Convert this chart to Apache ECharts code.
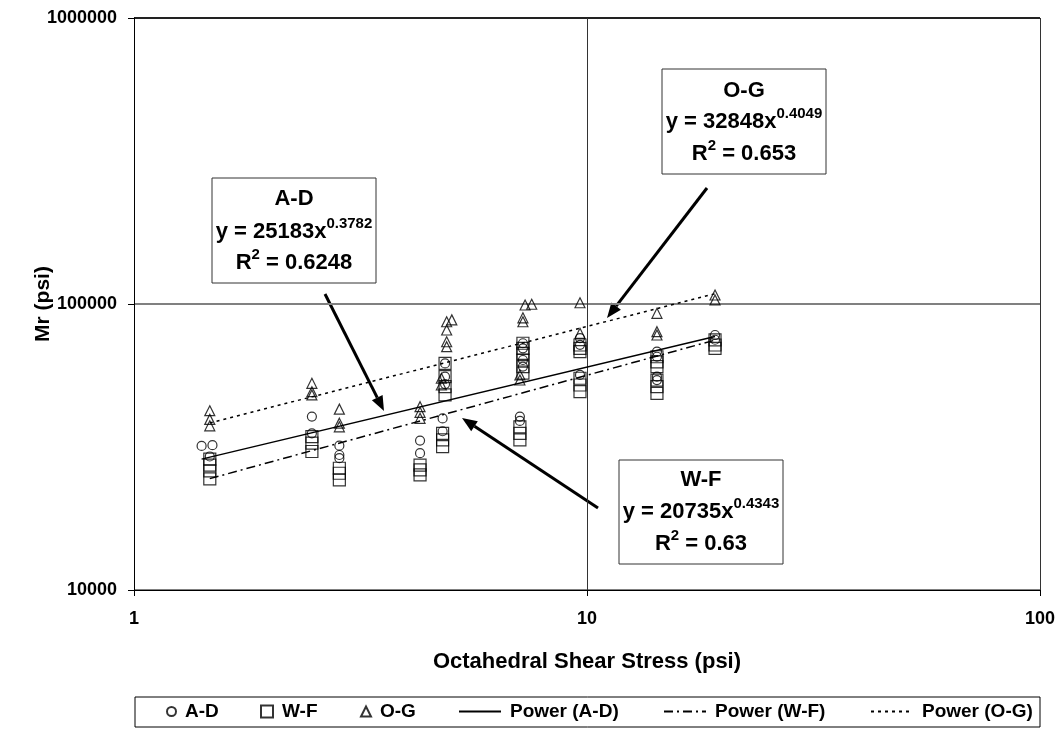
<!DOCTYPE html>
<html>
<head>
<meta charset="utf-8">
<script src="https://cdn.jsdelivr.net/npm/echarts@6/dist/echarts.min.js"></script>
<style>
  html, body { margin: 0; padding: 0; background: #fff; }
  #chart { width: 1062px; height: 729px; }
</style>
</head>
<body>
<div id="chart"></div>
<script>
// Resilient modulus vs octahedral shear stress, three soil groups
const adX = [1.41, 1.49, 1.47, 2.47, 2.47, 2.84, 2.84, 2.84, 4.28, 4.28,
             4.86, 4.86, 4.86, 4.80, 4.80, 7.22, 7.22, 7.22, 7.22, 7.11,
             7.11, 9.65, 9.65, 9.65, 14.27, 14.27, 14.27, 14.27, 19.17, 19.17];
const adY = [31900, 32100, 29300, 40400, 35300, 31950, 29650, 28900, 33300, 30100,
             62000, 55700, 52500, 39800, 35900, 72900, 70000, 63700, 60400, 40400,
             39000, 76000, 72000, 56500, 68100, 65400, 55700, 54200, 77900, 75000];

const wfX = [1.47, 1.47, 1.47, 1.47, 2.47, 2.47, 2.47, 2.84, 2.84, 2.84,
             4.28, 4.28, 4.28, 4.86, 4.86, 4.86, 4.86, 4.80, 4.80, 4.80,
             7.22, 7.22, 7.22, 7.22, 7.22, 7.22, 7.11, 7.11, 7.11,
             9.65, 9.65, 9.65, 9.65, 9.65, 9.65,
             14.27, 14.27, 14.27, 14.27, 14.27, 14.27, 19.17, 19.17, 19.17];
const wfY = [28700, 27350, 26100, 24450, 34400, 32600, 30500, 26650, 25600, 24250,
             27350, 26300, 25250, 62000, 55700, 51400, 48100, 35300, 33500, 31700,
             72900, 70000, 67200, 63700, 60400, 57300, 37200, 35300, 33500,
             71900, 70000, 68200, 55000, 52100, 49400,
             65400, 62800, 60400, 54200, 51400, 48700, 74900, 71900, 70000];

const ogX = [1.47, 1.47, 1.47, 2.47, 2.47, 2.47, 2.84, 2.84, 2.84,
             4.28, 4.28, 4.28, 4.90, 4.90, 4.90, 4.90, 5.03, 4.77, 4.77,
             7.30, 7.55, 7.22, 7.22, 7.11, 7.11, 9.65, 9.65,
             14.27, 14.27, 14.27, 19.17, 19.17];
const ogY = [42350, 39500, 37500, 52800, 49350, 48100, 42900, 38300, 37200,
             43750, 41800, 39850, 86700, 81100, 73800, 70900, 88000, 55000, 52100,
             99200, 99800, 86700, 89500, 56480, 54230, 101000, 79000,
             92800, 80000, 77900, 107500, 103300];

// Power-law fits y = a * x^b
const fitNames = ['Power (A-D)', 'Power (W-F)', 'Power (O-G)'];
const fitCoef = [25183, 20735, 32848];
const fitExp = [0.3782, 0.4343, 0.4049];
const fitR2 = ['0.6248', '0.63', '0.653'];
const groupNames = ['A-D', 'W-F', 'O-G'];

const xTicks = [1, 10, 100];
const yTicks = [10000, 100000, 1000000];

const FONT = '"Liberation Sans", Arial, Helvetica, sans-serif';

function pairs(xs, ys) { return xs.map((x, i) => [x, ys[i]]); }
function fitLine(k, xs) {
  const x0 = Math.min.apply(null, xs), x1 = Math.max.apply(null, xs);
  return [x0, x1].map(x => [x, fitCoef[k] * Math.pow(x, fitExp[k])]);
}

const hollow = { color: 'rgba(0,0,0,0)', borderColor: '#000', borderWidth: 1.2 };
const lineTypes = ['solid', [9, 4, 2, 4], [3, 4]];

const chart = echarts.init(document.getElementById('chart'), null, { renderer: 'canvas' });

// Annotation box: title, equation with superscript exponent, R squared
function eqBox(k, left, top, w, h, lineYs) {
  const cx = left + w / 2;
  const rich = {
    m: { fontFamily: FONT, fontSize: 22, fontWeight: 'bold', color: '#000', lineHeight: 32 },
    s: { fontFamily: FONT, fontSize: 15, fontWeight: 'bold', color: '#000', lineHeight: 15, verticalAlign: 'top' }
  };
  return {
    type: 'group',
    children: [
      { type: 'rect', shape: { x: left, y: top, width: w, height: h },
        style: { fill: '#fff', stroke: '#333', lineWidth: 1 } },
      { type: 'text', style: { x: cx, y: lineYs[0], text: groupNames[k], align: 'center', verticalAlign: 'middle',
        font: 'bold 22px ' + FONT, fill: '#000' } },
      { type: 'text', style: { x: cx, y: lineYs[1], align: 'center', verticalAlign: 'middle',
        text: '{m|y = ' + fitCoef[k] + 'x}{s|' + fitExp[k] + '}', rich: rich } },
      { type: 'text', style: { x: cx, y: lineYs[2], align: 'center', verticalAlign: 'middle',
        text: '{m|R}{s|2}{m| = ' + fitR2[k] + '}', rich: rich } }
    ]
  };
}

function arrow(x0, y0, x1, y1) {
  const ang = Math.atan2(y1 - y0, x1 - x0);
  const L = 15, W = 6;
  const bx = x1 - L * Math.cos(ang), by = y1 - L * Math.sin(ang);
  const px = -Math.sin(ang) * W, py = Math.cos(ang) * W;
  return {
    type: 'group',
    children: [
      { type: 'line', shape: { x1: x0, y1: y0, x2: bx, y2: by }, style: { stroke: '#000', lineWidth: 3 } },
      { type: 'polygon', shape: { points: [[x1, y1], [bx + px, by + py], [bx - px, by - py]] },
        style: { fill: '#000' } }
    ]
  };
}

function legendItem(name, left, w, h, isLine) {
  const item = { name: name };
  if (isLine) item.itemStyle = { opacity: 0 };
  return {
    show: true, left: left, top: 702, padding: 0, itemGap: 0,
    itemWidth: w, itemHeight: h, selectedMode: false,
    textStyle: { fontFamily: FONT, fontSize: 19, fontWeight: 'bold', color: '#000', padding: [0, 0, 0, 4] },
    data: [item]
  };
}

const option = {
  backgroundColor: '#fff',
  animation: false,
  textStyle: { fontFamily: FONT },
  grid: { left: 134, top: 18, width: 906, height: 572, containLabel: false },
  xAxis: {
    type: 'log', logBase: 10, min: xTicks[0], max: xTicks[xTicks.length - 1],
    name: 'Octahedral Shear Stress (psi)', nameLocation: 'middle', nameGap: 61, nameMoveOverlap: false,
    nameTextStyle: { fontFamily: FONT, fontSize: 22, fontWeight: 'bold', color: '#000' },
    axisLine: { lineStyle: { color: '#000', width: 1 } },
    axisTick: { show: true, length: 6, lineStyle: { color: '#000' } },
    minorTick: { show: false },
    axisLabel: { fontFamily: FONT, fontSize: 18, fontWeight: 'bold', color: '#000', margin: 20,
      formatter: v => String(Math.round(v)) },
    splitLine: { show: true, lineStyle: { color: '#333', width: 1 } }
  },
  yAxis: {
    type: 'log', logBase: 10, min: yTicks[0], max: yTicks[yTicks.length - 1],
    name: 'Mr (psi)', nameLocation: 'middle', nameGap: 80, nameMoveOverlap: false,
    nameTextStyle: { fontFamily: FONT, fontSize: 21, fontWeight: 'bold', color: '#000' },
    axisLine: { show: true, lineStyle: { color: '#000', width: 1 } },
    axisTick: { show: true, length: 6, lineStyle: { color: '#000' } },
    minorTick: { show: false },
    axisLabel: { fontFamily: FONT, fontSize: 18, fontWeight: 'bold', color: '#000', margin: 17,
      formatter: v => String(Math.round(v)) },
    splitLine: { show: true, lineStyle: { color: ['#808080', '#808080', '#222'], width: 2 } }
  },
  legend: [
    legendItem('A-D', 166, 9, 9),
    legendItem('W-F', 260, 12, 12),
    legendItem('O-G', 360, 10, 10),
    legendItem(fitNames[0], 458, 42, 14, true),
    legendItem(fitNames[1], 663, 42, 14, true),
    legendItem(fitNames[2], 870, 42, 14, true)
  ],
  series: [
    { name: 'A-D', type: 'scatter', symbol: 'circle', symbolSize: 9, itemStyle: hollow, data: pairs(adX, adY), z: 3 },
    { name: 'W-F', type: 'scatter', symbol: 'rect', symbolSize: 12, itemStyle: hollow, data: pairs(wfX, wfY), z: 3 },
    { name: 'O-G', type: 'scatter', symbol: 'triangle', symbolSize: 10, itemStyle: hollow, data: pairs(ogX, ogY), z: 3 },
    { name: fitNames[0], type: 'line', symbol: 'none', data: fitLine(0, adX),
      lineStyle: { color: '#000', width: 1.5, type: lineTypes[0] }, itemStyle: { color: '#000' }, z: 4 },
    { name: fitNames[1], type: 'line', symbol: 'none', data: fitLine(1, wfX),
      lineStyle: { color: '#000', width: 1.5, type: lineTypes[1] }, itemStyle: { color: '#000' }, z: 4 },
    { name: fitNames[2], type: 'line', symbol: 'none', data: fitLine(2, ogX),
      lineStyle: { color: '#000', width: 1.5, type: lineTypes[2] }, itemStyle: { color: '#000' }, z: 4 }
  ],
  graphic: [
    { type: 'rect', shape: { x: 135, y: 697, width: 905, height: 30 }, style: { fill: 'none', stroke: '#000', lineWidth: 1 }, z: -1 },
    eqBox(0, 212, 178, 164, 105, [199, 232, 263]),
    eqBox(2, 662, 69, 164, 105, [91, 122, 154]),
    eqBox(1, 619, 460, 164, 104, [480, 512, 544]),
    arrow(325, 294, 384, 411),
    arrow(707, 188, 607, 318),
    arrow(598, 508, 462, 418)
  ]
};

chart.setOption(option);
</script>
</body>
</html>
